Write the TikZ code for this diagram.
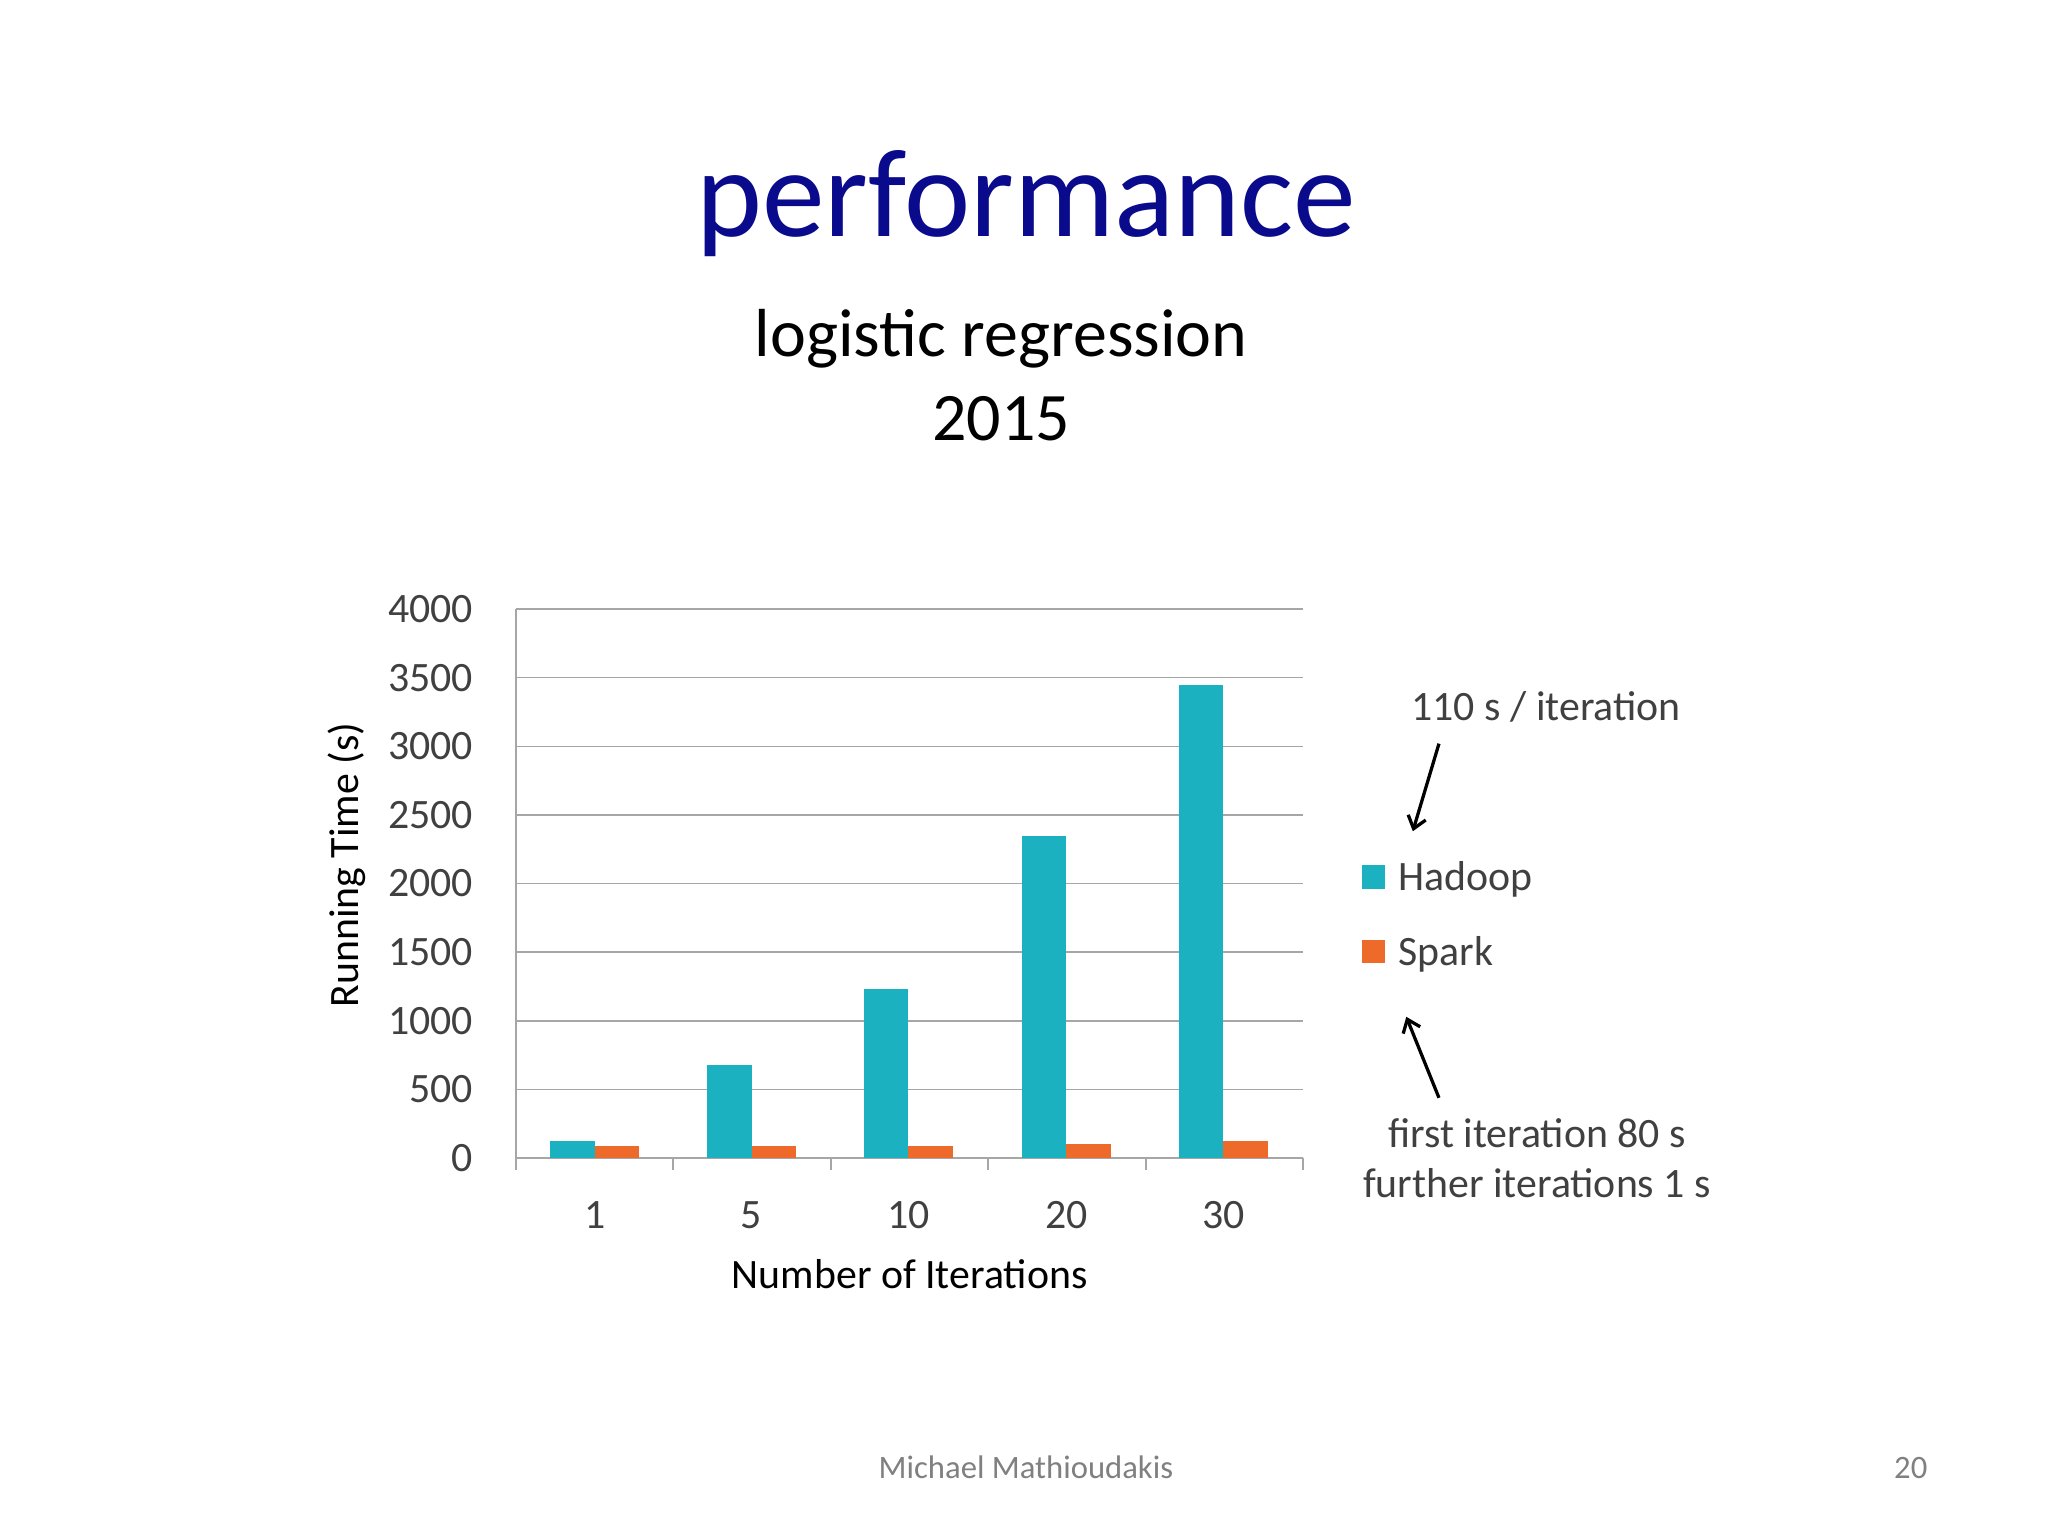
\documentclass[tikz,border=0pt]{standalone}
\usepackage{fontspec}
\setmainfont{Carlito}
\usetikzlibrary{arrows.meta}
\definecolor{teal}{HTML}{1BB1C0}
\definecolor{orng}{HTML}{EE6A2A}
\definecolor{navy}{HTML}{0A0A8C}
\definecolor{txt}{HTML}{404040}
\definecolor{grid}{HTML}{A6A6A6}
\begin{document}
\begin{tikzpicture}[x=1pt,y=-1pt,
  lbl/.style={font=\fontsize{32}{38}\selectfont,text=txt,inner sep=0},
  hbar/.style={fill=teal,draw=none},
  sbar/.style={fill=orng,draw=none}]
\useasboundingbox (0,0) rectangle (1567,1175);
\fill[white] (0,0) rectangle (1567,1175);
\node[font=\fontsize{96}{110}\selectfont,text=navy] (title) at (785,156) {performance};
\node[font=\fontsize{52}{64}\selectfont,align=center] (sub) at (766,287) {logistic regression\\2015};
% grid
\foreach \v in {500,1000,...,4000}{
  \draw[grid,line width=1.2] (395,{886-0.105*\v}) -- (997,{886-0.105*\v});
}
\foreach \v in {0,500,...,4000}{
  \node[lbl,anchor=east] (yl\v) at (362,{886-0.105*\v}) {\v};
}
\draw[grid,line width=1.2] (395,466) -- (395,895);
\draw[grid,line width=1.2] (395,886) -- (997,886);
\foreach \x in {395,515,636,756,877,997}{\draw[grid,line width=1.2] (\x,886) -- (\x,895);}
% bars
\foreach \c/\h/\s/\l in {455/124/86/1, 575/676/86/5, 695/1229/90/10, 816/2343/105/20, 936/3448/124/30}{
  \fill[hbar] ({\c-34},886) rectangle (\c,{886-0.105*\h});
  \fill[sbar] (\c,886) rectangle ({\c+34},{886-0.105*\s});
  \node[lbl] (xl\l) at (\c,930) {\l};
}
\node[font=\fontsize{32}{38}\selectfont,rotate=90] (ylab) at (265,662) {Running Time (s)};
\node[font=\fontsize{32}{38}\selectfont] (xlab) at (696,975) {Number of Iterations};
% legend
\fill[teal] (1042,662) rectangle (1060,680);
\node[lbl,anchor=west] (lh) at (1070,673) {Hadoop};
\fill[orng] (1042,719) rectangle (1060,737);
\node[lbl,anchor=west] (ls) at (1070,730) {Spark};
% annotations
\node[lbl] (a1) at (1183,541) {110 s / iteration};
\coordinate (a1s) at (1101,569); \coordinate (a1e) at (1081,636);
\draw[line width=2.5,-{Straight Barb[length=9pt,width=14pt]}] (a1s) -- (a1e);
\node[lbl,align=center] (a2) at (1176,886) {first iteration 80 s\\further iterations 1 s};
\coordinate (a2s) at (1101,840); \coordinate (a2e) at (1076,778);
\draw[line width=2.5,-{Straight Barb[length=9pt,width=14pt]}] (a2s) -- (a2e);
% footer
\node[font=\fontsize{25}{30}\selectfont,text=gray] (foot) at (785,1123) {Michael Mathioudakis};
\node[font=\fontsize{25}{30}\selectfont,text=gray] (pg) at (1462,1123) {20};
\end{tikzpicture}
\end{document}
